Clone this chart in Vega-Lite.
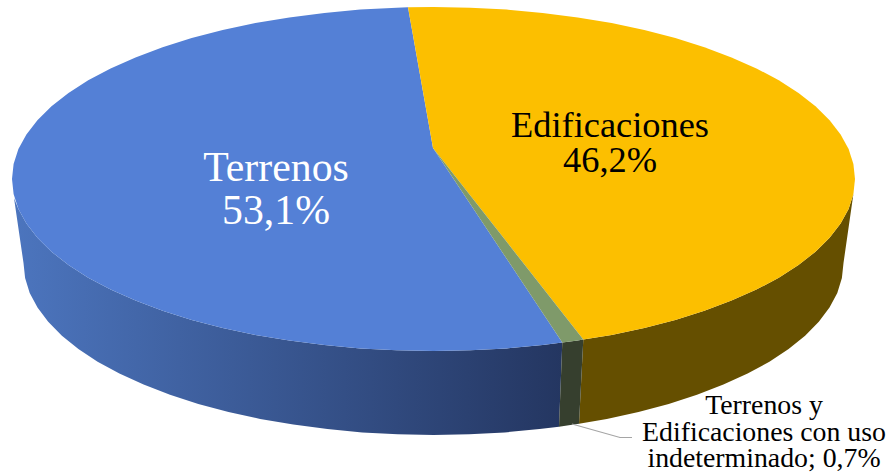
{"$schema":"https://vega.github.io/schema/vega-lite/v6.json","width":887,"height":474,"padding":0,"autosize":{"type":"fit","contains":"padding"},"background":"white","view":{"stroke":null},"projection":{"type":"identity","scale":1,"translate":[0,0]},"resolve":{"scale":{"color":"independent"}},"layer":[
{"data":{"values":[{"type":"Feature","properties":{"part":"Terrenos wall"},"geometry":{"type":"Polygon","coordinates":[[[562.3,342.5],[542.6,345.1],[506.7,348.4],[470.3,350.3],[433.5,351],[396.7,350.3],[360.3,348.4],[324.4,345.1],[289.3,340.6],[255.4,334.9],[222.7,328],[191.7,319.9],[162.6,310.8],[135.5,300.6],[110.6,289.6],[88.2,277.7],[68.5,265],[51.5,251.7],[37.4,237.8],[26.4,223.5],[18.4,208.9],[14,198],[23.5,263],[25.1,278],[29.7,292.9],[37.5,307.5],[48.2,321.8],[61.9,335.7],[78.4,349],[97.6,361.7],[119.4,373.6],[143.6,384.6],[170,394.8],[198.3,403.9],[228.5,412],[260.2,418.9],[293.3,424.6],[327.4,429.1],[362.3,432.4],[397.7,434.3],[433.5,435],[469.3,434.3],[504.7,432.4],[539.6,429.1],[559,426.7],[562.3,342.5]]]}}]},"mark":{"type":"geoshape","strokeWidth":0,"fill":{"gradient":"linear","x1":0,"y1":0,"x2":1,"y2":0,"stops":[{"offset":0,"color":"#4c75be"},{"offset":1,"color":"#243661"}]}}},
{"data":{"values":[{"type":"Feature","properties":{"part":"Edificaciones wall"},"geometry":{"type":"Polygon","coordinates":[[[583.3,339.5],[611.6,334.9],[644.3,328],[675.3,319.9],[704.4,310.8],[731.5,300.6],[756.4,289.6],[778.8,277.7],[798.5,265],[815.5,251.7],[829.6,237.8],[840.6,223.5],[848.6,208.9],[853.4,194],[843.5,263],[841.9,278],[837.3,292.9],[829.5,307.5],[818.8,321.8],[805.1,335.7],[788.6,349],[769.4,361.7],[747.6,373.6],[723.4,384.6],[697,394.8],[668.7,403.9],[638.5,412],[606.8,418.9],[579,423.8],[583.3,339.5]]]}},{"type":"Feature","properties":{"part":"Indeterminado wall"},"geometry":{"type":"Polygon","coordinates":[[[562.3,342.5],[577.7,340.6],[583.3,339.5],[579,423.8],[573.7,424.6],[559,426.7],[562.3,342.5]]]}}]},"mark":{"type":"geoshape","strokeWidth":0},"encoding":{"color":{"field":"properties.part","type":"nominal","legend":null,"scale":{"domain":["Edificaciones wall","Indeterminado wall"],"range":["#654f00","#363f2e"]}}}},
{"data":{"values":[{"type":"Feature","properties":{"part":"Terrenos","share":53.1},"geometry":{"type":"Polygon","coordinates":[[[433,148],[562.3,342.5],[542.6,345.1],[506.7,348.4],[470.3,350.3],[433.5,351],[396.7,350.3],[360.3,348.4],[324.4,345.1],[289.3,340.6],[255.4,334.9],[222.7,328],[191.7,319.9],[162.6,310.8],[135.5,300.6],[110.6,289.6],[88.2,277.7],[68.5,265],[51.5,251.7],[37.4,237.8],[26.4,223.5],[18.4,208.9],[13.6,194],[12,179],[13.6,164],[18.4,149.1],[26.4,134.5],[37.4,120.2],[51.5,106.3],[68.5,93],[88.2,80.3],[110.6,68.4],[135.5,57.4],[162.6,47.2],[191.7,38.1],[222.7,30],[255.4,23.1],[289.3,17.4],[324.4,12.9],[360.3,9.6],[396.7,7.7],[408,7.3],[433,148]]]}},{"type":"Feature","properties":{"part":"Edificaciones","share":46.2},"geometry":{"type":"Polygon","coordinates":[[[433,148],[408,7.3],[433.5,7],[470.3,7.7],[506.7,9.6],[542.6,12.9],[577.7,17.4],[611.6,23.1],[644.3,30],[675.3,38.1],[704.4,47.2],[731.5,57.4],[756.4,68.4],[778.8,80.3],[798.5,93],[815.5,106.3],[829.6,120.2],[840.6,134.5],[848.6,149.1],[853.4,164],[855,179],[853.4,194],[848.6,208.9],[840.6,223.5],[829.6,237.8],[815.5,251.7],[798.5,265],[778.8,277.7],[756.4,289.6],[731.5,300.6],[704.4,310.8],[675.3,319.9],[644.3,328],[611.6,334.9],[583.3,339.5],[433,148]]]}},{"type":"Feature","properties":{"part":"Terrenos y Edificaciones con uso indeterminado","share":0.7},"geometry":{"type":"Polygon","coordinates":[[[433,148],[583.3,339.5],[577.7,340.6],[562.3,342.5],[433,148]]]}}]},"mark":{"type":"geoshape","strokeWidth":0},"encoding":{"color":{"field":"properties.part","type":"nominal","legend":null,"scale":{"domain":["Terrenos","Edificaciones","Terrenos y Edificaciones con uso indeterminado"],"range":["#5480d6","#fcbf00","#7f9a6a"]}}}},
{"data":{"values":[{"type":"Feature","properties":{"part":"leader"},"geometry":{"type":"LineString","coordinates":[[572,424],[620,437.5],[632,437.5]]}}]},"mark":{"type":"geoshape","filled":false,"stroke":"#a5a5a5","strokeWidth":1.2}},
{"data":{"values":[{"label":"Terrenos\n53,1%","lon":276,"lat":181}]},"mark":{"type":"text","font":"Liberation Serif","fontSize":41.8,"lineHeight":43,"lineBreak":"\n","color":"white","align":"center","baseline":"alphabetic"},"encoding":{"longitude":{"field":"lon","type":"quantitative"},"latitude":{"field":"lat","type":"quantitative"},"text":{"field":"label"}}},
{"data":{"values":[{"label":"Edificaciones\n46,2%","lon":610,"lat":137}]},"mark":{"type":"text","font":"Liberation Serif","fontSize":36.4,"lineHeight":35,"lineBreak":"\n","color":"black","align":"center","baseline":"alphabetic"},"encoding":{"longitude":{"field":"lon","type":"quantitative"},"latitude":{"field":"lat","type":"quantitative"},"text":{"field":"label"}}},
{"data":{"values":[{"label":"Terrenos y\nEdificaciones con uso\nindeterminado; 0,7%","lon":764,"lat":414}]},"mark":{"type":"text","font":"Liberation Serif","fontSize":27.8,"lineHeight":26.5,"lineBreak":"\n","color":"black","align":"center","baseline":"alphabetic"},"encoding":{"longitude":{"field":"lon","type":"quantitative"},"latitude":{"field":"lat","type":"quantitative"},"text":{"field":"label"}}}
]}
